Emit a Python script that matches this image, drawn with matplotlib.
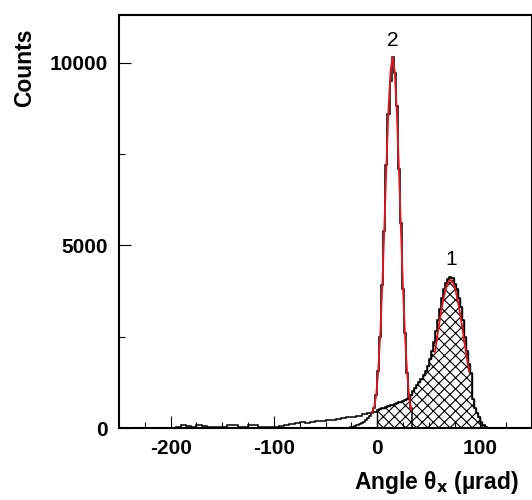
import numpy as np
import matplotlib
matplotlib.use("Agg")
import matplotlib.pyplot as plt

plt.rcParams['font.family'] = ['Liberation Sans', 'DejaVu Sans']
plt.rcParams['hatch.linewidth'] = 0.8
plt.rcParams['axes.unicode_minus'] = False

# wide distribution (tail + peak 1), 5 urad bins from -250 to 0
tail_edges = np.arange(-250, 1, 5)
tail_counts = [0, 0, 0, 0, 0, 0, 0, 0, 0, 5,
               10, 20, 70, 60, 20, 75, 60, 20, 15, 20,
               25, 80, 90, 30, 25, 85, 90, 40, 30, 25,
               40, 60, 80, 110, 130, 160, 150, 170, 190, 200,
               220, 230, 250, 270, 290, 310, 340, 370, 400, 450]

# peak 1 part (hatched), 2 urad bins from 0 to 106
peak1_edges = np.arange(0, 107, 2)
peak1_counts = [500, 520, 540, 560, 580, 600, 620, 640, 660, 680,
                700, 720, 740, 760, 790, 830, 900, 1000, 1100, 1180,
                1260, 1350, 1440, 1560, 1700, 1900, 2100, 2350, 2650, 2950,
                3250, 3550, 3800, 3980, 4080, 4130, 4100, 3950, 3800, 3550,
                3300, 2950, 2500, 2100, 1750, 1500, 800, 550, 420, 300,
                170, 80, 20]

# peak 2 distribution, 2 urad bins from -26 to 34
peak2_edges = np.arange(-26, 35, 2)
peak2_counts = [15, 30, 50, 70, 100, 130, 170, 210, 260, 330,
                420, 560, 900, 1550, 2500, 3900, 5400, 7200, 8600, 9500,
                10150, 9700, 8800, 7100, 5600, 3800, 2600, 1500, 850, 550]

# fit curves
fit2_x = [-5, -3, -1, 1, 3, 5, 7, 9, 11, 13, 15, 17, 19, 21, 23, 25, 27, 29, 31, 33]
fit2_y = [420, 560, 870, 1540, 2540, 3880, 5490, 7180, 8700, 9770,
          10150, 9770, 8700, 7180, 5490, 3880, 2540, 1540, 870, 500]
fit1_x = [56, 58, 60, 62, 64, 66, 68, 70, 72, 74, 76, 78, 80, 82, 84, 86, 88, 89]
fit1_y = [2080, 2450, 2830, 3190, 3500, 3760, 3940, 4040, 4040, 3940,
          3760, 3500, 3190, 2830, 2450, 2080, 1720, 1550]

fig = plt.figure(figsize=(5.32, 5.0), dpi=100)
ax = fig.add_axes([119 / 532, 72 / 500, 413 / 532, 413 / 500])

# hatched area
ax.stairs(peak1_counts, peak1_edges, fill=True, facecolor='none',
          edgecolor='black', hatch='xxx', linewidth=1.0)
# full outline of wide distribution
all_edges = np.concatenate([tail_edges, peak1_edges[1:]])
all_counts = list(tail_counts) + list(peak1_counts)
ax.stairs(all_counts, all_edges, color='black', linewidth=1.1)
ax.stairs(peak2_counts, peak2_edges, color='black', linewidth=1.1)

ax.plot(fit2_x, fit2_y, color='#e8141c', lw=1.3)
ax.plot(fit1_x, fit1_y, color='#e8141c', lw=1.3)

ax.text(15.5, 10600, '2', fontsize=15, ha='center', va='center')
ax.text(71.5, 4600, '1', fontsize=15, ha='center', va='center')

ax.set_xlim(-250, 150)
ax.set_ylim(0, 11300)
ax.set_xticks([-200, -100, 0, 100])
ax.set_xticks(np.arange(-225, 150, 25), minor=True)
ax.set_yticks([0, 5000, 10000])
ax.set_yticks([2500, 7500], minor=True)
ax.tick_params(which='both', direction='in', width=0.8, top=False, right=False)
ax.tick_params(which='major', length=8.6, pad=8, labelsize=15)
ax.tick_params(which='minor', length=4.3)
for lab in ax.get_xticklabels() + ax.get_yticklabels():
    lab.set_fontweight('bold')
for sp in ax.spines.values():
    sp.set_linewidth(1.5)

ax.set_ylabel('Counts', fontsize=16.5, fontweight='bold', loc='top')
ax.yaxis.set_label_coords(-0.2, 0.968)
ax.set_xlabel(r'Angle θ$_{\mathbf{x}}$ (µrad)', fontsize=16.5, fontweight='bold', loc='right')
ax.xaxis.set_label_coords(0.9685, -0.099)

fig.savefig('out.png', dpi=100)
